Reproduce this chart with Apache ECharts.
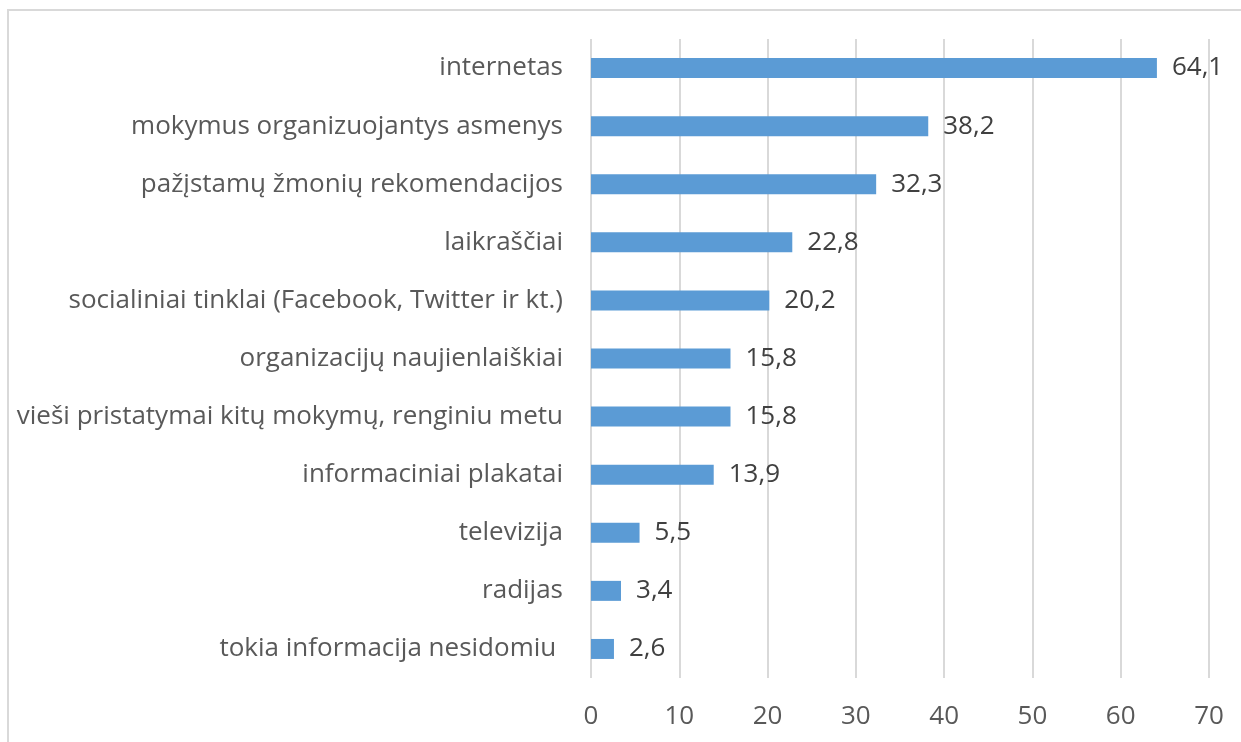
<!DOCTYPE html>
<html>
<head>
<meta charset="utf-8">
<script src="https://cdn.jsdelivr.net/npm/echarts@6/dist/echarts.min.js"></script>
<style>
html,body{margin:0;padding:0;background:#fff;}
#chart{width:1241px;height:742px;}
</style>
</head>
<body>
<div id="chart"></div>
<script>
const categories = [
  "internetas",
  "mokymus organizuojantys asmenys",
  "pažįstamų žmonių rekomendacijos",
  "laikraščiai",
  "socialiniai tinklai (Facebook, Twitter ir kt.)",
  "organizacijų naujienlaiškiai",
  "vieši pristatymai kitų mokymų, renginiu metu",
  "informaciniai plakatai",
  "televizija",
  "radijas",
  "tokia informacija nesidomiu "
];
const values = [64.1, 38.2, 32.3, 22.8, 20.2, 15.8, 15.8, 13.9, 5.5, 3.4, 2.6];
const xTicks = { min: 0, max: 70, interval: 10 };

const FONT = "Open Sans";
const chart = echarts.init(document.getElementById('chart'), null, {renderer: 'canvas'});
chart.setOption({
  animation: false,
  backgroundColor: '#ffffff',
  graphic: [{
    type: 'rect',
    shape: {x: 8, y: 10, width: 1400, height: 900},
    style: {fill: 'none', stroke: '#d9d9d9', lineWidth: 2},
    silent: true
  }],
  grid: {left: 591, right: 32, top: 39, bottom: 64, containLabel: false},
  xAxis: {
    type: 'value',
    min: xTicks.min, max: xTicks.max, interval: xTicks.interval,
    axisLine: {show: false},
    axisTick: {show: false},
    splitLine: {show: true, lineStyle: {color: '#d9d9d9', width: 2}},
    axisLabel: {color: '#595959', fontSize: 26, fontFamily: FONT, margin: 26}
  },
  yAxis: {
    type: 'category',
    inverse: true,
    data: categories,
    axisLine: {show: false},
    axisTick: {show: false},
    axisLabel: {color: '#595959', fontSize: 26, fontFamily: FONT, margin: 28}
  },
  series: [{
    type: 'bar',
    data: values,
    barWidth: 20,
    itemStyle: {color: '#5b9bd5'},
    label: {
      show: true, position: 'right', distance: 15,
      color: '#404040', fontSize: 26, fontFamily: FONT,
      formatter: p => String(p.value).replace('.', ',')
    }
  }]
});
</script>
</body>
</html>
